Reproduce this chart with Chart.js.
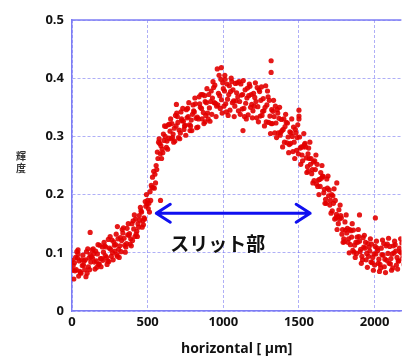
<!DOCTYPE html>
<html>
<head>
<meta charset="utf-8">
<script src="https://cdn.jsdelivr.net/npm/chart.js@4"></script>
<style>
  html, body { margin: 0; padding: 0; background: #fff; }
  #wrap { width: 404px; height: 361px; }
</style>
</head>
<body>
<div id="wrap"><canvas id="myChart" width="404" height="361"></canvas></div>
<script>
// profile samples, one array per pass
const xStep = 20;
const passStarts = [0, 4, 8, 12, 16];

const pass1 = [0.087,0.069,0.098,0.065,0.086,0.065,0.097,0.107,0.086,0.081,0.110,0.095,0.123,0.094,0.113,0.094,0.126,0.143,0.116,0.133,0.121,0.158,0.144,0.170,0.158,0.190,0.190,0.240,0.243,0.288,0.272,0.317,0.297,0.322,0.292,0.324,0.342,0.312,0.332,0.310,0.354,0.331,0.368,0.330,0.360,0.330,0.378,0.358,0.416,0.348,0.382,0.342,0.387,0.358,0.391,0.344,0.371,0.334,0.383,0.350,0.374,0.332,0.377,0.343,0.387,0.324,0.346,0.306,0.340,0.307,0.330,0.289,0.308,0.274,0.306,0.335,0.268,0.288,0.240,0.262,0.224,0.252,0.214,0.231,0.185,0.208,0.172,0.190,0.150,0.160,0.119,0.142,0.114,0.139,0.099,0.120,0.088,0.118,0.094,0.115,0.079,0.104,0.074,0.116,0.087,0.111,0.074,0.103,0.086,0.117];
const pass2 = [0.070,0.092,0.060,0.088,0.071,0.107,0.084,0.099,0.075,0.113,0.087,0.110,0.085,0.122,0.103,0.124,0.102,0.125,0.142,0.115,0.155,0.132,0.164,0.144,0.188,0.176,0.216,0.211,0.273,0.270,0.304,0.281,0.321,0.298,0.336,0.298,0.330,0.318,0.348,0.318,0.344,0.315,0.356,0.372,0.336,0.372,0.338,0.388,0.354,0.398,0.352,0.390,0.345,0.380,0.361,0.394,0.347,0.380,0.337,0.372,0.352,0.384,0.335,0.365,0.325,0.362,0.322,0.352,0.306,0.329,0.290,0.323,0.288,0.316,0.276,0.299,0.258,0.282,0.280,0.236,0.258,0.214,0.238,0.203,0.227,0.182,0.198,0.160,0.174,0.132,0.153,0.118,0.138,0.101,0.127,0.102,0.126,0.088,0.110,0.083,0.111,0.082,0.108,0.076,0.115,0.081,0.112,0.079,0.108,0.090];
const pass3 = [0.078,0.071,0.086,0.078,0.088,0.076,0.093,0.084,0.098,0.090,0.101,0.092,0.108,0.100,0.114,0.106,0.121,0.113,0.131,0.124,0.141,0.137,0.156,0.155,0.180,0.185,0.212,0.235,0.262,0.284,0.293,0.292,0.309,0.304,0.318,0.311,0.327,0.319,0.334,0.328,0.342,0.333,0.350,0.341,0.358,0.349,0.366,0.357,0.374,0.363,0.378,0.364,0.377,0.361,0.375,0.360,0.372,0.357,0.370,0.355,0.367,0.351,0.362,0.344,0.354,0.335,0.343,0.323,0.331,0.310,0.317,0.299,0.306,0.290,0.298,0.280,0.282,0.263,0.262,0.243,0.243,0.225,0.228,0.209,0.211,0.190,0.185,0.166,0.158,0.140,0.139,0.124,0.127,0.113,0.118,0.106,0.110,0.099,0.103,0.092,0.098,0.089,0.097,0.089,0.099,0.090,0.100,0.092,0.102,0.095];
const pass4 = [0.055,0.102,0.068,0.096,0.059,0.091,0.105,0.072,0.114,0.076,0.118,0.080,0.128,0.088,0.132,0.092,0.140,0.101,0.150,0.112,0.165,0.128,0.178,0.148,0.200,0.170,0.230,0.220,0.290,0.262,0.318,0.278,0.330,0.290,0.340,0.296,0.348,0.302,0.358,0.310,0.366,0.316,0.372,0.322,0.382,0.326,0.394,0.334,0.405,0.340,0.398,0.336,0.400,0.334,0.392,0.338,0.396,0.330,0.390,0.332,0.392,0.325,0.385,0.318,0.378,0.305,0.362,0.298,0.350,0.282,0.338,0.272,0.330,0.262,0.320,0.252,0.305,0.238,0.290,0.220,0.268,0.200,0.250,0.185,0.232,0.168,0.210,0.140,0.182,0.118,0.165,0.100,0.150,0.092,0.140,0.082,0.130,0.075,0.124,0.070,0.120,0.068,0.122,0.066,0.125,0.070,0.120,0.072,0.124,0.080];
const pass5 = [0.083,0.091,0.066,0.079,0.102,0.071,0.091,0.103,0.080,0.090,0.112,0.086,0.106,0.119,0.097,0.112,0.134,0.110,0.130,0.150,0.128,0.150,0.172,0.160,0.184,0.205,0.212,0.250,0.296,0.278,0.300,0.320,0.296,0.314,0.334,0.306,0.326,0.346,0.320,0.338,0.356,0.330,0.348,0.370,0.340,0.360,0.384,0.352,0.370,0.392,0.356,0.372,0.394,0.352,0.368,0.390,0.348,0.366,0.386,0.344,0.360,0.380,0.336,0.350,0.368,0.322,0.334,0.346,0.302,0.312,0.324,0.286,0.300,0.312,0.270,0.282,0.286,0.248,0.252,0.256,0.218,0.226,0.232,0.192,0.198,0.200,0.158,0.162,0.164,0.124,0.134,0.140,0.104,0.118,0.128,0.094,0.108,0.116,0.084,0.098,0.108,0.080,0.096,0.112,0.082,0.098,0.114,0.086,0.100,0.116];

// stray points away from the band
const strayX = [40, 120, 300, 585, 690, 880, 987, 1010, 1130, 1316, 1316, 1500, 1500, 1560, 1750, 1900, 2005];
const strayY = [0.105, 0.135, 0.145, 0.190, 0.355, 0.325, 0.418, 0.405, 0.310, 0.430, 0.410, 0.345, 0.330, 0.270, 0.220, 0.165, 0.160];

const xTicks = [0, 500, 1000, 1500, 2000];
const xTickLabels = ['0', '500', '1000', '1500', '2000'];
const yTickLabels = ['0', '0.1', '0.2', '0.3', '0.4', '0.5'];

const xTitle = 'horizontal [ μm]';
const yTitle = '輝度';
const slitLabel = 'スリット部';
const slitFrom = 557, slitTo = 1574, slitLevel = 0.168;
const slitLabelX = 964, slitLabelY = 0.115;

const passes = [pass1, pass2, pass3, pass4, pass5];
const points = [];
passes.forEach((p, k) => p.forEach((y, i) => points.push({ x: passStarts[k] + i * xStep, y: y })));
strayX.forEach((x, i) => points.push({ x: x, y: strayY[i] }));

const gridBlue = 'rgba(110,110,240,0.55)';
const axisBlue = 'rgb(125,125,245)';

// arrow, slit label, top frame line and the stacked y title
const extras = {
  id: 'extras',
  afterDatasetsDraw(chart) {
    const { ctx, chartArea: a, scales: { x, y } } = chart;
    ctx.save();
    // top frame
    ctx.strokeStyle = axisBlue;
    ctx.lineWidth = 1.5;
    ctx.beginPath();
    ctx.moveTo(a.left, a.top);
    ctx.lineTo(a.right, a.top);
    ctx.stroke();

    // double arrow
    const x1 = x.getPixelForValue(slitFrom), x2 = x.getPixelForValue(slitTo);
    const yy = y.getPixelForValue(slitLevel);
    ctx.strokeStyle = 'rgb(15,15,240)';
    ctx.lineWidth = 3;
    ctx.lineCap = 'round';
    ctx.lineJoin = 'round';
    ctx.beginPath();
    ctx.moveTo(x1, yy); ctx.lineTo(x2, yy);
    ctx.moveTo(x1 + 14, yy - 9); ctx.lineTo(x1, yy); ctx.lineTo(x1 + 14, yy + 9);
    ctx.moveTo(x2 - 14, yy - 9); ctx.lineTo(x2, yy); ctx.lineTo(x2 - 14, yy + 9);
    ctx.stroke();

    // label under the arrow
    ctx.fillStyle = '#111';
    ctx.font = 'bold 19px "Noto Sans CJK JP"';
    ctx.textAlign = 'center';
    ctx.textBaseline = 'middle';
    ctx.fillText(slitLabel, x.getPixelForValue(slitLabelX), y.getPixelForValue(slitLabelY));

    // y title, characters stacked
    ctx.font = 'bold 10px "Noto Sans CJK JP"';
    ctx.fillStyle = '#333';
    const chars = Array.from(yTitle);
    const midY = (a.top + a.bottom) / 2 - 3;
    chars.forEach((c, i) => ctx.fillText(c, 21, midY + (i - (chars.length - 1) / 2) * 12));
    ctx.restore();
  }
};

const ctx = document.getElementById('myChart');

const myChart = new Chart(ctx, {
  type: 'scatter',
  data: {
    datasets: [{
      data: points,
      pointRadius: 2.6,
      pointHoverRadius: 2.6,
      borderWidth: 0,
      backgroundColor: 'rgba(226,0,0,0.9)'
    }]
  },
  options: {
    responsive: false,
    animation: false,
    layout: { padding: { top: 20, right: 0, left: 0, bottom: 0 } },
    plugins: {
      legend: { display: false },
      tooltip: { enabled: false }
    },
    scales: {
      x: {
        type: 'linear',
        min: 0,
        max: 2177,
        afterFit(scale) { scale.height = 50; },
        afterBuildTicks(scale) { scale.ticks = xTicks.map(v => ({ value: v })); },
        ticks: {
          color: '#111',
          font: { family: 'Open Sans', size: 13, weight: 'bold' },
          padding: 3,
          maxRotation: 0,
          callback: (v, i) => xTickLabels[i]
        },
        grid: { color: gridBlue, lineWidth: 1, drawTicks: false },
        border: { color: axisBlue, width: 1.5, dash: [3, 2] },
        title: {
          display: true,
          text: xTitle,
          color: '#111',
          font: { family: 'Open Sans', size: 14, weight: 'bold' },
          padding: { top: 3 }
        }
      },
      y: {
        min: 0,
        max: 0.5,
        afterFit(scale) { scale.width = 72; },
        ticks: {
          stepSize: 0.1,
          color: '#111',
          font: { family: 'Open Sans', size: 13, weight: 'bold' },
          padding: 8,
          callback: (v, i) => yTickLabels[i]
        },
        grid: { color: gridBlue, lineWidth: 1, drawTicks: false },
        border: { color: axisBlue, width: 1.5, dash: [3, 2] }
      }
    }
  },
  plugins: [extras]
});
</script>
</body>
</html>
